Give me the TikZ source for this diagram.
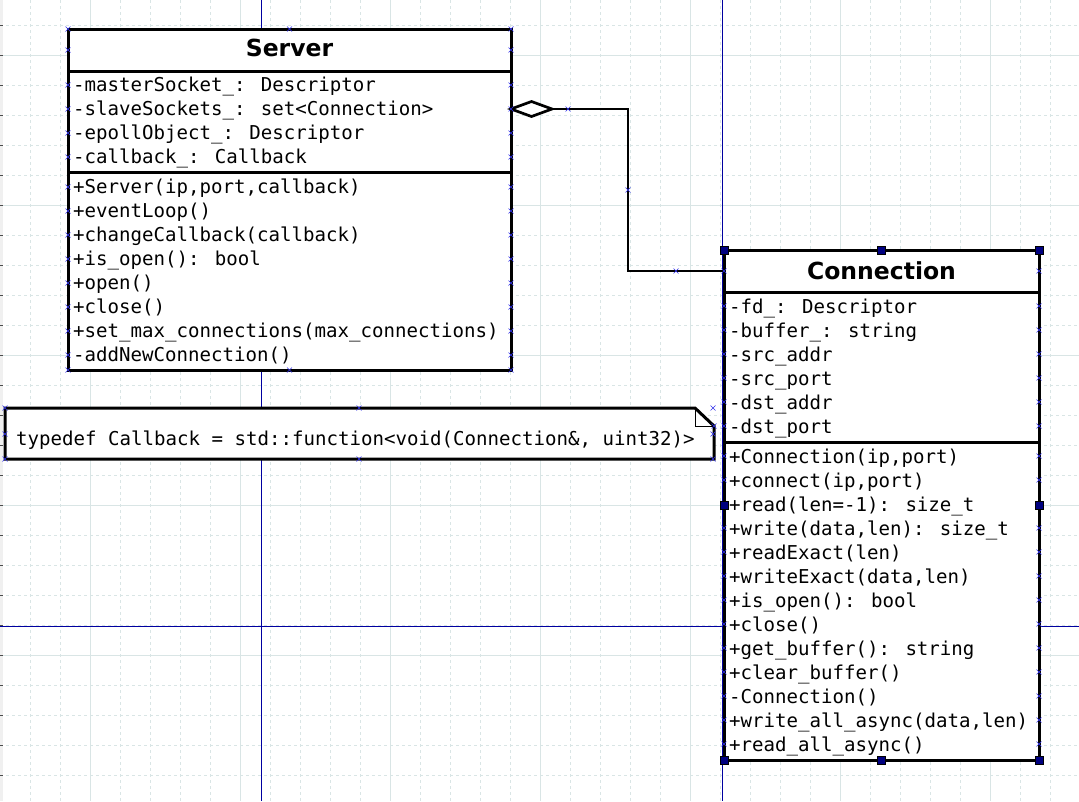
\documentclass[tikz,border=0pt]{standalone}
\usepackage{fontspec}
\newfontfamily\monofont{DejaVu Sans Mono}
\newfontfamily\hdrfont{DejaVu Sans}
\usetikzlibrary{calc}
\definecolor{gridc}{RGB}{217,229,229}
\definecolor{guide}{RGB}{0,0,160}
\definecolor{cptc}{RGB}{50,50,235}
\definecolor{handle}{RGB}{0,0,128}
\tikzset{
 box/.style={draw=black, fill=white, line width=3pt, inner sep=0pt, outer sep=0pt, anchor=north west},
 row/.style={anchor=base west, inner sep=0pt, font=\monofont\fontsize{19.1}{24}\selectfont},
 hdr/.style={anchor=base, inner sep=0pt, font=\hdrfont\bfseries\fontsize{23.5}{28}\selectfont},
 conn/.style={line width=2.7pt, draw=black, line join=miter},
 cpt/.pic={\draw[cptc, line width=0.6pt] (-2.5,-2.5) -- (2.5,2.5) (-2.5,2.5) -- (2.5,-2.5);},
 handlebox/.style={fill=handle, draw=black, line width=0.5pt, minimum size=8pt, inner sep=0pt, outer sep=0pt},
 gridline/.style={draw=gridc, line width=1pt},
}
\begin{document}
\begin{tikzpicture}[x=1pt,y=-1pt]
\useasboundingbox (0,0) rectangle (1079,801);
\fill[white] (0,0) rectangle (1079,801);
% grid
\foreach \x in {30,60,...,1050} \draw[gridline, dash pattern=on 3pt off 3pt] (\x,0) -- (\x,801);
\foreach \y in {25,55,...,775} \draw[gridline, dash pattern=on 3pt off 3pt] (0,\y) -- (1079,\y);
\foreach \x in {90,240,390,540,690,840,990} \draw[gridline] (\x,0) -- (\x,801);
\foreach \y in {55,205,355,505,655} \draw[gridline] (0,\y) -- (1079,\y);
% ruler strip
\fill[black!6] (0,0) rectangle (3,801);
\foreach \y in {25,55,...,775} \draw[black!70, line width=1pt] (0,\y) -- (2.5,\y);
% guides
\draw[guide, line width=1pt] (261,0) -- (261,801);
\draw[guide, line width=1pt] (722,0) -- (722,801);
\draw[guide, line width=1pt] (0,626.5) -- (1079,626.5);

% Server class
\node[box, minimum width=443pt, minimum height=42pt] (srvhdr) at (68,29) {};
\node[box, minimum width=443pt, minimum height=101pt] (srvattr) at (68,71) {};
\node[box, minimum width=443pt, minimum height=198pt] (srvops) at (68,172) {};
\node[hdr] (srvtitle) at (289.5,56.7) {Server};
\foreach \t [count=\i] in {-masterSocket\_: Descriptor,{-slaveSockets\_: set<Connection>},-epollObject\_: Descriptor,-callback\_: Callback}
  \node[row] (sa\i) at (73,{67+24*\i}) {\t};
\foreach \t [count=\i] in {{+Server(ip,port,callback)},+eventLoop(),+changeCallback(callback),+is\_open(): bool,+open(),+close(),+set\_max\_connections(max\_connections),-addNewConnection()}
  \node[row] (so\i) at (73,{169+24*\i}) {\t};

% Connection class
\node[box, minimum width=315pt, minimum height=42pt] (conhdr) at (724,250) {};
\node[box, minimum width=315pt, minimum height=150pt] (conattr) at (724,292) {};
\node[box, minimum width=315pt, minimum height=318pt] (conops) at (724,442) {};
\node[hdr] (contitle) at (881.5,279) {Connection};
\foreach \t [count=\i] in {-fd\_: Descriptor,-buffer\_: string,-src\_addr,-src\_port,-dst\_addr,-dst\_port}
  \node[row] (ca\i) at (729,{289+24*\i}) {\t};
\foreach \t [count=\i] in {{+Connection(ip,port)},{+connect(ip,port)},+read(len=-1): size\_t,{+write(data,len): size\_t},+readExact(len),{+writeExact(data,len)},+is\_open(): bool,+close(),+get\_buffer(): string,+clear\_buffer(),-Connection(),{+write\_all\_async(data,len)},+read\_all\_async()}
  \node[row] (co\i) at (729,{439+24*\i}) {\t};

% Note
\draw[fill=white, line width=3pt, line join=miter] (5,408) -- (695,408) -- (714,426) -- (714,459) -- (5,459) -- cycle;
\draw[line width=1pt] (695,408) -- (695,426) -- (714,426);
\node[row] (note) at (16,445.3) {typedef Callback = std::function<void(Connection\&, uint32)>};

% Aggregation connector
\coordinate (aggS) at ($(srvattr.north east)+(0,38)$);
\coordinate (aggT) at ($(aggS)+(41,0)$);
\coordinate (bendx) at (628,109);
\draw[conn] (aggT) -- (bendx) |- (conhdr.west);
\draw[conn, fill=white] (aggS) -- ++(20.5,-7.5) -- (aggT) -- ++(-20.5,7.5) -- cycle;

% connection points
\foreach \y in {29,50,85,109,133,157,187,211,235,259,283,307,331,355,370} {
  \pic at (68,\y) {cpt}; \pic at (511,\y) {cpt}; }
\pic at (289.5,29) {cpt}; \pic at (289.5,370) {cpt};
\foreach \y in {271,306,330,354,378,402,426,456,480,528,552,576,600,624,648,672,696,720,744} {
  \pic at (724,\y) {cpt}; \pic at (1039,\y) {cpt}; }
\pic at (568,109) {cpt}; \pic at (628,190) {cpt}; \pic at (676,271) {cpt};
\foreach \p in {(5,408),(359,408),(713,408),(5,434),(713,434),(5,459),(359,459),(713,459),(714,426)}
  \pic at \p {cpt};

% selection handles
\node[handlebox] (h1) at (conhdr.north west) {};
\node[handlebox] (h2) at (conhdr.north) {};
\node[handlebox] (h3) at (conhdr.north east) {};
\node[handlebox] (h4) at (724,505) {};
\node[handlebox] (h5) at (1039,505) {};
\node[handlebox] (h6) at (conops.south west) {};
\node[handlebox] (h7) at (conops.south) {};
\node[handlebox] (h8) at (conops.south east) {};
\end{tikzpicture}
\end{document}
